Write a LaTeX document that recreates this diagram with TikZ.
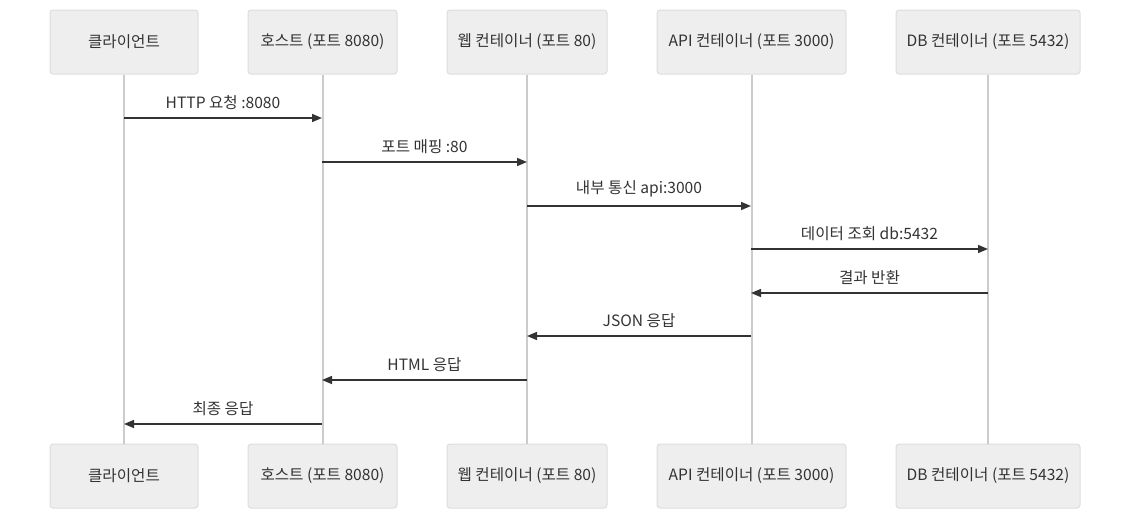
\documentclass[tikz,border=0pt]{standalone}
\usepackage{fontspec}
\setmainfont{Noto Sans CJK KR}
\usetikzlibrary{arrows.meta}
\definecolor{boxfill}{HTML}{EEEEEE}
\definecolor{boxline}{HTML}{DDDDDD}
\definecolor{lifeline}{HTML}{CCCCCC}
\definecolor{txt}{HTML}{333333}
\tikzset{
  actor/.style={draw=boxline, fill=boxfill, rounded corners=3pt, line width=1pt,
    minimum height=64pt, inner sep=0pt, text=txt, font=\fontsize{15.6}{18}\selectfont},
  life/.style={draw=lifeline, line width=2pt},
  msg/.style={draw=txt, line width=1.5pt, -{Triangle[length=10pt,width=8pt]}},
  lbl/.style={text=txt, font=\fontsize{15.6}{18}\selectfont, inner sep=0pt}
}
\begin{document}
\begin{tikzpicture}[x=1pt,y=-1pt]
\useasboundingbox (0,0) rectangle (1138,523);
% top actors
\node[actor, minimum width=148pt] (c1) at (124,42) {클라이언트};
\node[actor, minimum width=149pt] (h1) at (322.5,42) {호스트 (포트 8080)};
\node[actor, minimum width=160pt] (w1) at (527,42) {웹 컨테이너 (포트 80)};
\node[actor, minimum width=189pt] (a1) at (751.5,42) {API 컨테이너 (포트 3000)};
\node[actor, minimum width=184pt] (d1) at (988,42) {DB 컨테이너 (포트 5432)};
% bottom actors
\node[actor, minimum width=148pt] (c2) at (124,476) {클라이언트};
\node[actor, minimum width=149pt] (h2) at (322.5,476) {호스트 (포트 8080)};
\node[actor, minimum width=160pt] (w2) at (527,476) {웹 컨테이너 (포트 80)};
\node[actor, minimum width=189pt] (a2) at (751.5,476) {API 컨테이너 (포트 3000)};
\node[actor, minimum width=184pt] (d2) at (988,476) {DB 컨테이너 (포트 5432)};
% lifelines
\draw[life] (c1.south) -- (c2.north);
\draw[life] (h1.south) -- (h2.north);
\draw[life] (w1.south) -- (w2.north);
\draw[life] (a1.south) -- (a2.north);
\draw[life] (d1.south) -- (d2.north);
% message coordinates
\coordinate (m1s) at (124,118); \coordinate (m1e) at (322,118);
\coordinate (m2s) at (322,162); \coordinate (m2e) at (527,162);
\coordinate (m3s) at (527,206); \coordinate (m3e) at (751,206);
\coordinate (m4s) at (751,249); \coordinate (m4e) at (988,249);
\coordinate (m5s) at (988,293); \coordinate (m5e) at (751,293);
\coordinate (m6s) at (751,336); \coordinate (m6e) at (527,336);
\coordinate (m7s) at (527,380); \coordinate (m7e) at (322,380);
\coordinate (m8s) at (322,424); \coordinate (m8e) at (124,424);
\draw[msg] (m1s) -- (m1e) node[lbl, midway, above=8pt] (l1) {HTTP 요청 :8080};
\draw[msg] (m2s) -- (m2e) node[lbl, midway, above=8pt] (l2) {포트 매핑 :80};
\draw[msg] (m3s) -- (m3e) node[lbl, midway, above=8pt] (l3) {내부 통신 api:3000};
\draw[msg] (m4s) -- (m4e) node[lbl, midway, above=8pt] (l4) {데이터 조회 db:5432};
\draw[msg] (m5s) -- (m5e) node[lbl, midway, above=8pt] (l5) {결과 반환};
\draw[msg] (m6s) -- (m6e) node[lbl, midway, above=8pt] (l6) {JSON 응답};
\draw[msg] (m7s) -- (m7e) node[lbl, midway, above=8pt] (l7) {HTML 응답};
\draw[msg] (m8s) -- (m8e) node[lbl, midway, above=8pt] (l8) {최종 응답};
\end{tikzpicture}
\end{document}
